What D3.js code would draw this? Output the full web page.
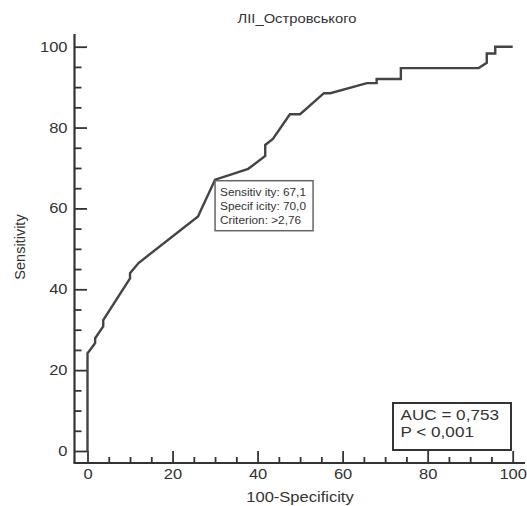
<!DOCTYPE html>
<html>
<head>
<meta charset="utf-8">
<script src="https://cdn.jsdelivr.net/npm/d3@7"></script>
<style>
  body { margin: 0; background: #fff; }
  svg text { font-family: "Liberation Sans", Arial, sans-serif; fill: #333; }
</style>
</head>
<body>
<div id="chart"></div>
<script>
// ROC curve points: 100-Specificity (x) and Sensitivity (y)
var fpr  = [0, 0, 0.6, 1.8, 1.8, 3.7, 3.7, 10, 10, 12, 26, 26.5, 30, 33.5, 37.8, 41.8, 41.8, 43.6, 47.6, 50, 55.6, 57.1, 65.7, 68, 68, 73.7, 73.7, 92, 93.9, 93.9, 95.9, 95.9, 100];
var sens = [0, 24.2, 25, 26.7, 27.9, 30.8, 32.4, 42.7, 44, 46.5, 58, 59.2, 67.1, 68.3, 69.8, 73, 75.7, 77.2, 83.3, 83.3, 88.5, 88.5, 91, 91, 92, 92, 94.7, 94.7, 96, 98.3, 98.3, 100, 100];

var majorTicks = [0, 20, 40, 60, 80, 100];
var minorTicks = d3.range(0, 101, 5).filter(function(v) { return v % 20 !== 0; });

var titleText = "ЛІІ_Островського";
var xLabel = "100-Specificity";
var yLabel = "Sensitivity";

// optimal criterion
var critX = 30, critY = 67.1;
var critLines = ["Sensitiv ity: 67,1", "Specif icity: 70,0", "Criterion: >2,76"];
var aucLines = ["AUC = 0,753", "P < 0,001"];

var W = 527, H = 506;
var stretch = 1.18; // the original text is a bit wide

var svg = d3.select("#chart").append("svg").attr("width", W).attr("height", H);

var x = d3.scaleLinear().domain([0, 100]).range([87.5, 512.7]);
var y = d3.scaleLinear().domain([0, 100]).range([451, 46.7]);

var axisX = 463, axisY = 74.5;

// x axis
var gx = svg.append("g").attr("transform", "translate(0," + axisX + ")");
gx.call(d3.axisBottom(x).tickValues(majorTicks).tickSize(-12).tickPadding(6).tickFormat(d3.format("d")));
gx.append("g").call(d3.axisBottom(x).tickValues(minorTicks).tickSize(-6).tickFormat(""));

// y axis
var gy = svg.append("g").attr("transform", "translate(" + axisY + ",0)");
gy.call(d3.axisLeft(y).tickValues(majorTicks).tickSize(-12.5).tickPadding(7).tickFormat(d3.format("d")));
gy.append("g").call(d3.axisLeft(y).tickValues(minorTicks).tickSize(-7).tickFormat(""));

svg.selectAll(".domain").remove();
svg.selectAll(".tick line").attr("stroke", "#333").attr("stroke-width", 1.8);
svg.selectAll(".tick text").attr("font-size", 14).attr("fill", "#333");

// axis lines
svg.append("line").attr("x1", axisY - 1).attr("x2", 525).attr("y1", axisX).attr("y2", axisX)
  .attr("stroke", "#333").attr("stroke-width", 2.2);
svg.append("line").attr("x1", axisY).attr("x2", axisY).attr("y1", 34).attr("y2", axisX)
  .attr("stroke", "#333").attr("stroke-width", 2.2);

// curve
var line = d3.line().x(function(d) { return x(d[0]); }).y(function(d) { return y(d[1]); });
svg.append("path")
  .datum(fpr.map(function(v, i) { return [v, sens[i]]; }))
  .attr("d", line)
  .attr("fill", "none")
  .attr("stroke", "#444")
  .attr("stroke-width", 2.4)
  .attr("stroke-linejoin", "miter");

// criterion box
var bx = x(critX), by = y(critY) + 1;
svg.append("rect").attr("x", bx).attr("y", by).attr("width", 98).attr("height", 50)
  .attr("fill", "#fff").attr("stroke", "#666").attr("stroke-width", 1.5);
svg.selectAll(".crit").data(critLines).enter().append("text")
  .attr("class", "crit")
  .attr("x", bx + 5).attr("y", function(d, i) { return by + 15 + i * 14.3; })
  .attr("font-size", 10).text(function(d) { return d; });

// AUC box
svg.append("rect").attr("x", 393).attr("y", 403).attr("width", 118).attr("height", 47)
  .attr("fill", "#fff").attr("stroke", "#333").attr("stroke-width", 2);
svg.selectAll(".auc").data(aucLines).enter().append("text")
  .attr("class", "auc")
  .attr("x", 400.5).attr("y", function(d, i) { return 419.5 + i * 17.5; })
  .attr("font-size", 14.5).text(function(d) { return d; });

// titles
svg.append("text").attr("x", 297).attr("y", 23).attr("text-anchor", "middle")
  .attr("font-size", 12.5).text(titleText);
svg.append("text").attr("x", 300).attr("y", 502).attr("text-anchor", "middle")
  .attr("font-size", 14).text(xLabel);
svg.append("text").attr("class", "rot")
  .attr("transform", "translate(25,247) rotate(-90)").attr("text-anchor", "middle")
  .attr("font-size", 14.5).text(yLabel);

// widen horizontal text a bit like the original
svg.selectAll("text").filter(function() { return this.getAttribute("class") !== "rot"; })
  .each(function() {
    var w = this.getComputedTextLength();
    d3.select(this).attr("textLength", w * stretch).attr("lengthAdjust", "spacingAndGlyphs");
  });
</script>
</body>
</html>
